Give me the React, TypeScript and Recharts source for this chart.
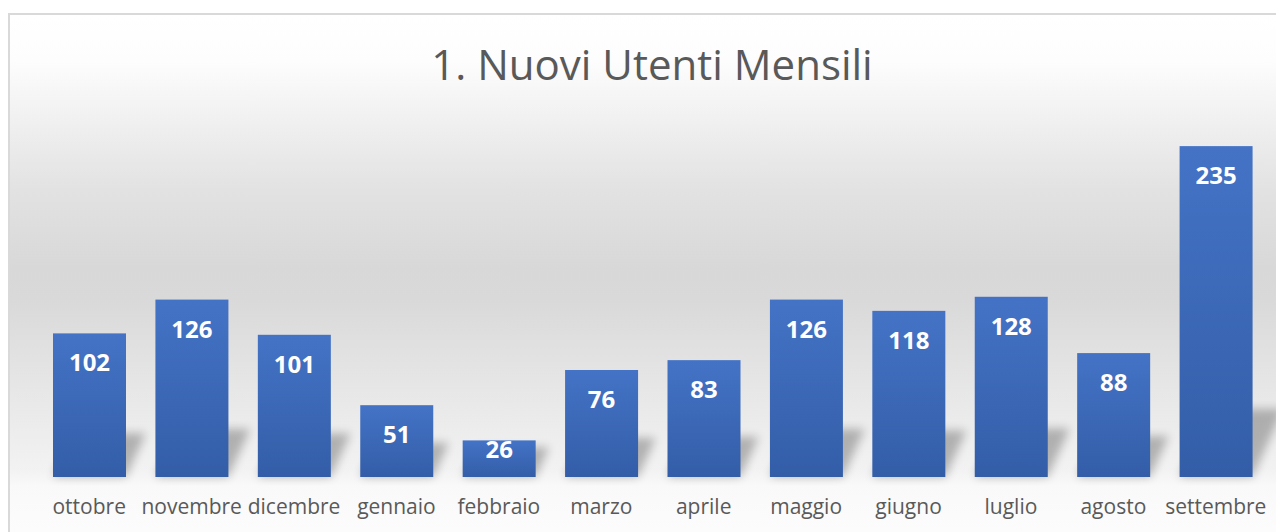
import { Bar, BarChart, LabelList, XAxis, YAxis } from 'recharts';

// mesi e nuovi utenti
const MONTHS = [
  'ottobre',
  'novembre',
  'dicembre',
  'gennaio',
  'febbraio',
  'marzo',
  'aprile',
  'maggio',
  'giugno',
  'luglio',
  'agosto',
  'settembre',
];
const NEW_USERS = [102, 126, 101, 51, 26, 76, 83, 126, 118, 128, 88, 235];

const TITLE = '1. Nuovi Utenti Mensili';
const FONT = '"Open Sans", "Noto Sans", sans-serif';
const TEXT = '#595959';

const data = MONTHS.map((label, i) => ({ label, value: NEW_USERS[i] }));

// barra con ombra prospettica in basso a destra (come lo stile di Excel)
function ShadowBar(props: any) {
  const { x, y, width, height } = props;
  if (!height || height <= 0) return null;
  const bottom = y + height;
  const sh = Math.min(height, 25 + height * 0.13);
  const dx = sh * 0.45;
  return (
    <g>
      <polygon
        points={`${x},${bottom} ${x + width},${bottom} ${x + width + dx},${bottom - sh} ${x + dx},${bottom - sh}`}
        fill="#000"
        opacity={0.26}
        filter="url(#barShadow)"
      />
      <rect x={x} y={y} width={width} height={height} fill="url(#barFill)" />
    </g>
  );
}

// etichetta "fine interna": scende dentro la barra, ma resta dentro se la barra è bassa
function InsideLabel(props: any) {
  const { x, y, width, height, value } = props;
  const base = y + Math.min(38, Math.max(height - 19, 17));
  return (
    <text
      x={x + width / 2}
      y={base}
      textAnchor="middle"
      fill="#ffffff"
      fontSize={24}
      fontWeight="bold"
      fontFamily={FONT}
    >
      {value}
    </text>
  );
}

export default function App() {
  return (
    <div style={{ position: 'relative', width: 1276, height: 524, overflow: 'hidden', fontFamily: FONT }}>
      <div
        style={{
          position: 'absolute',
          left: 0,
          top: 5,
          right: 0,
          bottom: 0,
          borderLeft: '2px solid #d9d9d9',
          borderTop: '2px solid #d9d9d9',
          background:
            'linear-gradient(to bottom, #ffffff 0%, #fdfdfd 9%, #f6f6f6 15%, #e2e2e2 34%, #d8d8d8 49%, #d9d9d9 55%, #e8e8e8 74%, #f2f2f2 88%, #f9f9f9 91%, #fcfcfc 100%)',
        }}
      />
      <div
        style={{
          position: 'absolute',
          left: 0,
          right: 0,
          top: 35,
          textAlign: 'center',
          paddingLeft: 12,
          fontSize: 42,
          lineHeight: '42px',
          color: TEXT,
        }}
      >
        {TITLE}
      </div>
      <div style={{ position: 'absolute', left: 0, top: 0 }}>
        <BarChart
          width={1276}
          height={524}
          data={data}
          margin={{ top: 117, right: 17, bottom: 0, left: 30 }}
          barSize={73}
        >
          <defs>
            <linearGradient id="barFill" x1="0" y1="0" x2="0" y2="1">
              <stop offset="0%" stopColor="#4473c6" />
              <stop offset="100%" stopColor="#335da7" />
            </linearGradient>
            <filter id="barShadow" x="-50%" y="-50%" width="200%" height="200%">
              <feGaussianBlur stdDeviation="5" />
            </filter>
          </defs>
          <XAxis
            dataKey="label"
            height={55}
            axisLine={false}
            tickLine={false}
            tickSize={0}
            tickMargin={22}
            interval={0}
            tick={{ fill: TEXT, fontSize: 21, fontFamily: FONT }}
          />
          <YAxis hide domain={[0, 250]} />
          <Bar dataKey="value" shape={<ShadowBar />} isAnimationActive={false}>
            <LabelList dataKey="value" content={<InsideLabel />} />
          </Bar>
        </BarChart>
      </div>
    </div>
  );
}
